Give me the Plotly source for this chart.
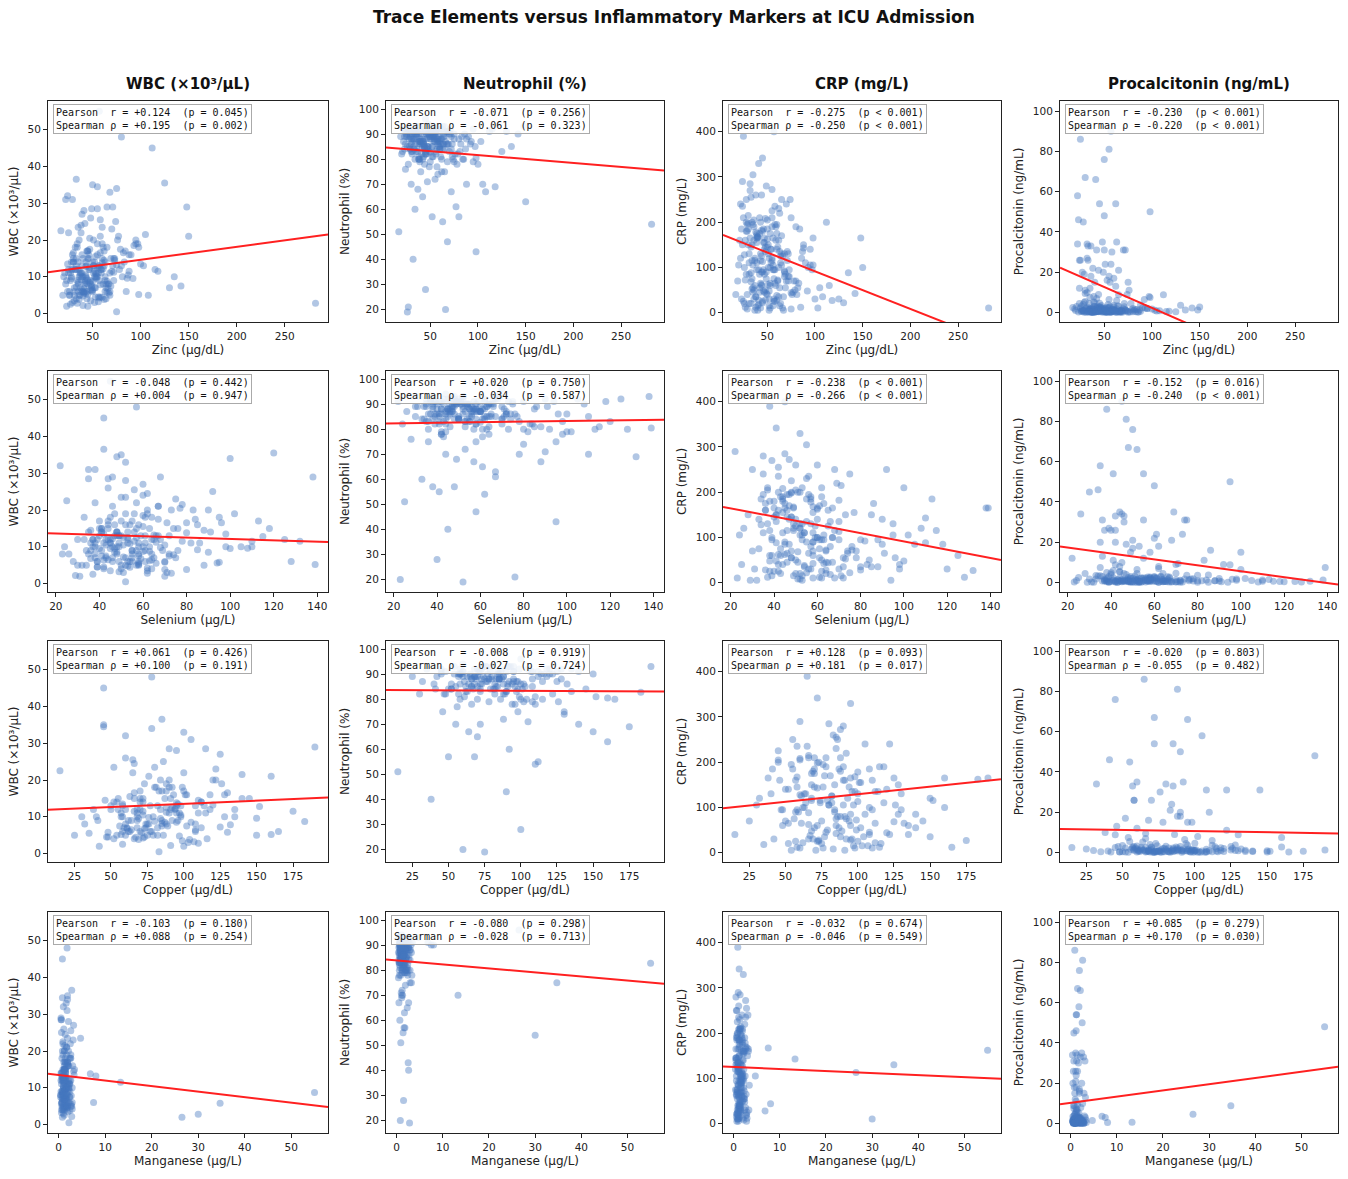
import plotly.graph_objects as go

# one entry per patient (None = not measured)
zinc = [25, 32, 41, 28, 45, 38, 22, 55, 35, 48,
        30, 42, 36, 50, 27, 62, 44, 33, 58, 40,
        47, 52, 39, 65, 31, 56, 43, 70, 24, 60,
        35, 45, 53, 38, 67, 29, 49, 57, 41, 63,
        20, 33, 46, 54, 61, 37, 43, 68, 26, 51,
        95, 105, 112, 125, 150, 98, 135, 88, 118, 103,
        142, 92, 108, 130, 84, 97, 115, 100, 90, 148,
        23, 27, 31, 36, 40, 44, 48, 52, 56, 75,
        17, 26, 27, 32, 45, 66, 68, 63, 52, 80,
        30, 34, 37, 42, 55, 58, 72, 77, 62, 47,
        39, 43, 48, 53, 59, 64, 70, 35, 28, 46,
        41, 44, 50, 54, 57, 61, 33, 38, 66, 72,
        21, 24, 29, 34, 38, 42, 47, 51, 55, 60,
        26, 31, 35, 40, 45, 49, 53, 58, 62, 67,
        33, 24, 29, 55, 68, 75, 71, 39, 49, 58,
        73, 78, 82, 86, 80, 76, 69, 93, 87, 74,
        22, 25, 30, 36, 44, 50, 57, 63, 72, 53,
        37, 41, 46, 51, 56, 60, 65, 34, 28, 43,
        19, 23, 32, 39, 48, 52, 59, 64, 81, 85,
        282, 50, 65, 45, 88, 40, 60, 75, 35, 98, 57,
        34, 39, 44, 49, 54, 59, 64, 28, 31, 46,
        37, 42, 47, 52, 57, 62, 69, 25, 29, 55,
        36, 40, 45, 50, 55, 60, 65, 71, 30, 47,
        33, 38, 43, 48, 53, 58, 63, 68, 42, 36,
        44, 51, 56, 61, 39, 34, 73, 79, 83, 95]

selenium = [38, 45, 52, 30, 41, 60, 35, 47, 55, 44,
            48, 36, 62, 50, 42, 55, 70, 40, 46, 58,
            33, 52, 44, 68, 58, 49, 37, 75, 28, 63,
            46, 55, 39, 61, 72, 51, 43, 57, 66, 48,
            24, 41, 53, 47, 64, 38, 56, 82, 34, 59,
            90, 78, 42, 120, 67, 95, 110, 85, 132, 72,
            58, 100, 88, 75, 113, 62, 125, 98, 54, 138,
            31, 37, 45, 50, 29, 42, 64, 71, 39, 52,
            25, 52, 76, 45, 40, 23, 58, 41, 38, 48,
            44, 33, 49, 61, 53, 80, 57, 67, 36, 90,
            47, 51, 55, 60, 43, 65, 78, 35, 40, 58,
            70, 38, 42, 54, 62, 46, 51, 85, 59, 66,
            36, 42, 47, 52, 57, 62, 67, 73, 44, 50,
            39, 43, 48, 53, 58, 63, 68, 74, 80, 94,
            42, 22, 38, 48, 52, 100, 46, 60, 35, 56,
            88, 64, 96, 108, 57, 83, 118, 60, 70, 92,
            26, 37, 41, 46, 50, 55, 61, 69, 74, 86,
            32, 36, 41, 45, 49, 54, 63, 73, 105, 115,
            30, 34, 39, 44, 48, 53, 58, 64, 98, 128,
            62, 60, 95, 70, 110, 49, 80, 65, 52, 139, 45,
            41, 45, 50, 55, 60, 65, 35, 48, 53, 57,
            43, 47, 51, 56, 61, 67, 72, 38, 44, 49,
            37, 40, 44, 48, 52, 56, 61, 66, 71, 77,
            50, 54, 58, 62, 46, 42, 39, 57, 64, 70,
            45, 49, 53, 58, 63, 68, 76, 84, 91, 102]

copper = [65, 80, 95, 55, 72, None, 105, 88, None, 60,
          72, None, 90, 45, 110, 85, None, 58, 76, 98,
          50, 68, 102, None, 82, 95, 40, 122, None, 70,
          78, 62, 48, 115, 88, None, 56, 92, 35, None,
          30, 66, 84, None, 99, 74, 52, None, 60, 108,
          120, 140, 45, None, 160, 90, None, 128, 175, 98,
          85, None, 150, 112, 70, None, 135, 96, 118, 190,
          42, 58, None, 79, 91, 66, None, 103, 47, 83,
          15, 75, None, 38, 100, 60, None, 112, 68, 50,
          55, 92, None, 70, 88, 130, 64, None, 46, 105,
          77, None, 96, 63, 118, 82, None, 54, 69, 101,
          48, 85, 108, None, 72, 94, 125, None, 61, 88,
          90, 58, None, 73, 100, 66, None, 84, 115, 52,
          62, None, 87, 97, 57, None, 76, 132, 104, 71,
          85, 60, None, 45, 100, 78, None, 125, 90, 65,
          110, 94, None, 150, 78, 122, 140, None, 98, 86,
          32, 70, None, 57, 83, 108, None, 92, 145, 68,
          54, 73, 89, None, 107, 67, 80, None, 128, 152,
          25, 41, None, 64, 76, None, 95, 116, 135, 165,
          110, 183, 130, 100, 72, 58, 95, 120, 80, 160, None,
          68, None, 82, 59, None, 91, 74, None, 63, 87,
          72, 95, None, 66, 85, None, 102, 57, None, 79,
          60, None, 88, 70, 93, None, 81, 114, 66, None,
          52, 77, None, 99, 61, 73, None, 86, 108, 69,
          84, None, 97, 75, 58, 68, 91, None, 112, 126]

manganese = [0.9, 1.4, 2.1, 0.7, 1.2, None, 1.8, 2.6, None, 1.1,
             1.5, None, 0.8, 1.9, 2.4, 1.3, None, 0.6, 1.7, 2.9,
             0.5, 1.1, 2.2, None, 1.4, 0.9, 1.6, 3.1, None, 1.2,
             1.3, 0.7, 1.8, 2.0, 1.0, None, 0.4, 1.5, 2.7, None,
             1.6, 0.9, 1.2, None, 2.3, 1.1, 0.6, None, 1.9, 1.4,
             2.1, 1.3, 0.8, None, 1.7, 2.5, None, 3.0, 1.1, 0.9,
             1.4, None, 2.6, 0.7, 1.9, None, 1.2, 3.3, 2.0, 0.5,
             0.8, 1.2, None, 1.5, 2.8, 0.6, None, 1.0, 1.7, 2.2,
             0.9, 2.8, None, 2.6, 1.5, 0.8, None, 1.4, 1.8, 1.6,
             1.1, 0.7, None, 2.3, 1.2, 1.9, 0.5, None, 3.2, 1.0,
             1.3, None, 0.9, 1.6, 2.4, 1.1, None, 0.7, 1.4, 2.0,
             0.6, 1.8, 1.2, None, 2.9, 1.0, 1.5, None, 0.8, 2.2,
             1.7, 1.1, None, 0.9, 2.5, 1.4, None, 1.2, 0.6, 1.9,
             2.1, None, 0.8, 1.3, 1.6, None, 1.0, 2.7, 1.2, 0.7,
             2.8, 1.0, None, 0.8, 1.6, 1.9, None, 3.2, 0.5, 2.6,
             1.5, 0.9, None, 2.2, 1.8, 1.2, 3.4, None, 1.0, 0.6,
             0.4, 1.5, None, 2.1, 1.1, 0.7, None, 2.4, 1.3, 1.9,
             1.0, 1.6, 2.4, None, 0.6, 1.3, 2.0, None, 1.1, 0.8,
             0.7, 1.2, None, 1.8, 0.5, None, 2.3, 1.0, 1.5, 2.9,
             30.0, 55.0, 34.7, 26.5, 13.3, 7.5, 6.8, 8.0, 4.7, 1.2, None,
             1.2, None, 0.9, 1.7, None, 2.1, 1.4, None, 0.7, 1.3,
             1.0, 1.6, None, 1.1, 0.8, None, 2.3, 1.4, None, 1.7,
             1.3, None, 1.9, 0.5, 1.2, None, 2.6, 1.0, 1.5, None,
             0.8, 1.5, None, 2.0, 1.3, 0.9, None, 1.8, 1.1, 2.4,
             1.4, None, 0.6, 1.8, 2.2, 1.0, 1.5, None, 0.9, 1.7]

wbc = [22, 18, 28, 12, 15, 24, 31, 19, 8, 26,
       14, 9, 20, 35, 11, 17, 6, 13, 21, 10,
       12, 7, 16, 29, 5, 13, 10, 23, 6, 15,
       6, 9, 4.5, 11, 8, 3, 7.5, 12.5, 5.5, 10,
       10, 15, 12, 9.5, 18, 7, 14, 11, 5, 13,
       20, 21.5, 45, 35.5, 21, 18, 10, 16, 11.5, 13,
       7.5, 9.5, 5, 7, 17, 19, 12, 13.5, 16, 29,
       2, 2.5, 3.5, 5, 2.2, 4, 6.5, 3, 4.5, 0.5,
       22.5, 5, 9, 12, 17, 8, 6, 14, 10, 13,
       15, 18, 11, 6, 12.5, 16.5, 9, 21, 14.5, 8.5,
       13, 10.5, 9, 15.5, 12, 7, 11.5, 14, 9.5, 16,
       5.8, 8.2, 6.4, 10.8, 4.2, 12.2, 7.2, 9.2, 6.8, 11.2,
       11, 13.5, 16, 19, 22, 24.5, 17.5, 20, 28.5, 23.5,
       6, 7, 8.5, 4.8, 5.2, 6.2, 9.8, 7.8, 3.8, 5.6,
       36.5, 32, 31, 34.5, 33, 34, 29, 27, 28.5, 25.5,
       14.5, 12, 16.5, 9.6, 48, 20, 15, 18.5, 10.5, 25,
       8, 12, 14, 10, 17, 6, 13, 9, 15, 11,
       5, 6.8, 7.5, 11, 3.2, 4.4, 8.8, 2.8, 10, 12.8,
       5, 9, 12, 6.5, 8, 14, 11, 4, 10, 6,
       2.8, 8.7, 5.8, 2.0, 11.5, 6.0, 13.8, 13.2, 23.5, 5.2, 55,
       9, 11, 13, 7, 10, 12, 8, 14, 6, 15,
       10.5, 8.5, 12.5, 11.5, 9, 13, 7.5, 11, 12, 10,
       12, 15, 17, 14, 16, 19, 18, 13, 16.5, 20.5,
       4, 6, 5.5, 3.5, 7, 4.5, 6, 5, 8, 3.8,
       9.5, 13, 11, 8, 10, 12, 15, 17.5, 14, 19]

neutrophil = [90, 88, 93, 85, 91, 87, 92, 89, 83, 94,
              86, 80, 91, 92, 78, 88, 84, 90, 87, 75,
              84, 89, 79, 93, 82, 91, 86, 90, 76, 85,
              88, 83, 91, 80, 86, 90, 77, 87, 92, 84,
              82, 85, 90, 88, 81, 93, 86, 79, 89, 91,
              92, 70, 91, 83, 63, 43, 85, 88, 69, 87,
              90, 86, 67, 91, 80, 85, 92, 78, 89, 93,
              89, 92, 87, 84, 93, 78, 90, 85, 82, 88,
              51, 19, 21, 40, 28, 20, 47, 55, 57, 57,
              70, 60, 68, 65, 72, 74, 67, 61, 75, 71,
              87, 91, 85, 89, 92, 86, 83, 90, 88, 84,
              82, 88, 79, 90, 84, 86, 91, 81, 87, 89,
              83, 86, 89, 92, 80, 88, 85, 91, 87, 84,
              85, 90, 92, 87, 82, 89, 93, 86, 80, 91,
              88, 91, 84, 90, 86, 79, 92, 87, 83, 89,
              81, 78, 86, 90, 88, 82, 91, 87, 84, 80,
              87, 92, 83, 90, 85, 88, 77, 93, 84, 89,
              93, 86, 82, 88, 91, 84, 89, 80, 92, 81,
              89, 84, 91, 86, 93, 81, 88, 90, 83, 80,
              54, 82.7, 75, 96, 70, 90, 91, 90, 93, 80.5, 92,
              86, 88, 84, 90, 87, 85, 89, 91, 83, 88,
              83, 87, 90, 85, 88, 92, 86, 89, 84, 91,
              91, 86, 82, 89, 93, 87, 84, 90, 88, 85,
              84, 90, 87, 92, 81, 88, 86, 91, 85, 89,
              85, 90, 83, 88, 80, 92, 86, 82, 89, 79]

crp = [390, 285, 330, 250, 342, 260, 240, 272, 305, 208,
       198, 175, 190, 205, 160, 230, 182, 145, 195, 168,
       140, 120, 155, 250, 110, 165, 130, 240, 150, 175,
       45, 22, 60, 12, 35, 8, 75, 30, 18, 55,
       105, 88, 95, 140, 72, 115, 65, 92, 128, 100,
       140, 55, 200, 30, 100, 105, 88, 150, 27, 10,
       42, 48, 35, 22, 185, 95, 60, 30, 110, 165,
       30, 12, 85, 50, 5, 62, 28, 15, 95, 8,
       40, 20, 72, 165, 25, 10, 90, 135, 48, 70,
       185, 75, 120, 55, 210, 95, 130, 45, 160, 85,
       170, 200, 135, 100, 190, 125, 70, 195, 180, 155,
       95, 60, 40, 110, 25, 145, 68, 35, 125, 80,
       160, 235, 195, 200, 178, 210, 165, 150, 190, 140,
       100, 20, 55, 15, 90, 42, 10, 65, 35, 5,
       255, 290, 180, 225, 130, 210, 115, 165, 280, 235,
       95, 70, 55, 120, 190, 40, 85, 100, 135, 250,
       120, 210, 150, 160, 260, 185, 95, 220, 70, 175,
       5, 28, 48, 62, 15, 38, 105, 52, 85, 115,
       70, 185, 270, 110, 145, 5, 60, 20, 40, 12,
       10, 162, 130, 113, 143, 167, 28, 44, 105, 165, 400,
       150, 175, 125, 90, 140, 160, 110, 200, 130, 185,
       60, 85, 45, 30, 75, 100, 55, 25, 40, 115,
       205, 165, 180, 145, 120, 195, 170, 135, 215, 155,
       20, 35, 10, 50, 65, 25, 15, 80, 45, 30,
       90, 130, 105, 70, 95, 115, 80, 50, 65, 105]

procalcitonin = [86, 34, 66, 45, 54, 22, 58, 81, 12, 35,
                 67, 31, 18, 76, 20, 54, 9, 26, 30, 15,
                 3.5, 1.2, 8, 21, 2.2, 15, 0.8, 31, 4.5, 2.8,
                 0.5, 1.1, 0.3, 2.0, 0.8, 0.2, 1.5, 0.6, 0.4, 1.8,
                 1.0, 2.5, 0.7, 4.0, 1.3, 0.4, 2.2, 0.9, 3.3, 1.6,
                 2.0, 0.7, 8.8, 0.4, 2.7, 50, 1.2, 3.8, 0.6, 1.1,
                 2.2, 6.5, 0.9, 3.6, 1.5, 8.0, 0.5, 1.8, 2.4, 1.2,
                 0.3, 1.0, 0.6, 2.1, 0.2, 0.8, 1.4, 0.4, 3.0, 0.1,
                 2.5, 0.8, 1.5, 10, 0.5, 0.3, 1.2, 6, 0.9, 0.4,
                 5.5, 1.8, 0.6, 2.4, 18, 0.9, 1.1, 0.3, 13, 0.7,
                 1.4, 3.2, 0.8, 2.6, 1.0, 0.5, 1.9, 7.5, 4.0, 1.2,
                 0.4, 1.6, 0.3, 2.0, 0.1, 0.9, 1.3, 0.2, 0.6, 1.5,
                 3.0, 26, 19, 4.5, 1.0, 7.0, 2.3, 24, 0.8, 17,
                 0.5, 0.2, 1.1, 0.4, 2.8, 0.6, 0.3, 1.7, 0.2, 0.1,
                 33, 12, 5, 2.5, 1.0, 15, 4.5, 3.0, 20, 1.2,
                 0.9, 4.5, 1.6, 0.3, 2.0, 11, 0.5, 2.2, 1.4, 9.0,
                 34, 26, 11, 33, 21, 31, 24, 35, 31, 16,
                 0.1, 0.7, 1.2, 0.4, 0.2, 0.5, 3.1, 0.3, 1.0, 0.6,
                 1.8, 46, 27, 5.2, 0.8, 0.2, 1.5, 0.4, 1.1, 0.3,
                 None, 48, 8.8, 4.6, 0.6, 3.0, 3.6, 0.5, 1.5, 7.5, 90,
                 0.9, 1.5, 0.4, 2.3, 0.7, 1.1, 3.4, 0.6, 1.9, 2.7,
                 0.2, 0.8, 1.4, 0.3, 0.5, 1.0, 0.2, 2.2, 0.7, 0.4,
                 1.6, 4.8, 2.2, 0.9, 6.5, 1.3, 0.8, 2.9, 9.5, 1.7,
                 0.3, 0.1, 0.6, 0.2, 1.0, 0.4, 0.2, 0.8, 0.5, 0.3,
                 1.1, 2.1, 0.3, 0.7, 1.5, 0.5, 0.9, 1.3, 0.4, 2.0]

element_data = [zinc, selenium, copper, manganese]
element_labels = ["Zinc (µg/dL)", "Selenium (µg/L)", "Copper (µg/dL)", "Manganese (µg/L)"]
marker_data = [wbc, neutrophil, crp, procalcitonin]
marker_labels = ["WBC (×10³/μL)", "Neutrophil (%)", "CRP (mg/L)", "Procalcitonin (ng/mL)"]

# correlation results per [element][marker]
pearson_r = [[0.124, -0.071, -0.275, -0.230],
             [-0.048, 0.020, -0.238, -0.152],
             [0.061, -0.008, 0.128, -0.020],
             [-0.103, -0.080, -0.032, 0.085]]
pearson_p = [[0.045, 0.256, 0.0001, 0.0001],
             [0.442, 0.750, 0.0001, 0.016],
             [0.426, 0.919, 0.093, 0.803],
             [0.180, 0.298, 0.674, 0.279]]
spearman_rho = [[0.195, -0.061, -0.250, -0.220],
                [0.004, -0.034, -0.266, -0.240],
                [0.100, -0.027, 0.181, -0.055],
                [0.088, -0.028, -0.046, 0.170]]
spearman_p = [[0.002, 0.323, 0.0001, 0.0001],
              [0.947, 0.587, 0.0001, 0.0001],
              [0.191, 0.724, 0.017, 0.482],
              [0.254, 0.713, 0.549, 0.030]]

# least squares lines (intercept, slope) per [element][marker]
fit_intercept = [[11.1, 84.8, 174.5, 23.0],
                 [14.0, 82.1, 182.4, 20.3],
                 [11.8, 83.64, 95.9, 11.74],
                 [13.5, 83.9, 125.4, 10.3]]
fit_slope = [[0.0352, -0.0317, -0.832, -0.207],
             [-0.0186, 0.0116, -0.913, -0.147],
             [0.0172, -0.0032, 0.334, -0.0113],
             [-0.151, -0.161, -0.456, 0.309]]

x_ranges = [[3.6, 295], [16.4, 144.9], [6.8, 199], [-2.3, 57.9]]
x_dticks = [50, 20, 25, 10]
y_ranges = [[-2.3, 57.8], [15.0, 103.2], [-20.8, 468], [-4.7, 105]]
y_dticks = [10, 10, 100, 20]

W, H = 1348, 1179
col_px = [(48, 328), (386, 664), (723, 1001), (1060, 1338)]
row_px = [(101, 322), (371, 592), (641, 862), (912, 1133)]


def p_text(p):
    if p < 0.001:
        return "< 0.001"
    return f"= {p:.3f}"


fig = go.Figure()
annotations = []
layout = {}

for r in range(4):
    for c in range(4):
        i = r * 4 + c + 1
        sfx = "" if i == 1 else str(i)
        xs, ys = [], []
        for xv, yv in zip(element_data[r], marker_data[c]):
            if xv is not None and yv is not None:
                xs.append(xv)
                ys.append(yv)
        fig.add_trace(go.Scatter(
            x=xs, y=ys, mode="markers", xaxis="x" + sfx, yaxis="y" + sfx,
            marker=dict(size=7, color="rgba(70,120,190,0.42)", line=dict(width=0)),
            showlegend=False, hoverinfo="x+y",
        ))
        x0, x1 = x_ranges[r]
        a, b = fit_intercept[r][c], fit_slope[r][c]
        fig.add_trace(go.Scatter(
            x=[x0, x1], y=[a + b * x0, a + b * x1], mode="lines",
            xaxis="x" + sfx, yaxis="y" + sfx,
            line=dict(color="#ff2020", width=2), showlegend=False, hoverinfo="skip",
        ))
        axis_common = dict(showline=True, mirror=True, linecolor="#222", linewidth=1,
                           ticks="outside", ticklen=4, tickcolor="#222", showgrid=False,
                           zeroline=False, tickfont=dict(size=10.5, color="#222"))
        layout["xaxis" + sfx] = dict(
            axis_common, domain=[col_px[c][0] / W, col_px[c][1] / W], anchor="y" + sfx,
            range=x_ranges[r], dtick=x_dticks[r], tick0=0,
            title=dict(text=element_labels[r], font=dict(size=12, color="#222"), standoff=5),
        )
        layout["yaxis" + sfx] = dict(
            axis_common, domain=[1 - row_px[r][1] / H, 1 - row_px[r][0] / H], anchor="x" + sfx,
            range=y_ranges[c], dtick=y_dticks[c], tick0=0,
            title=dict(text=marker_labels[c], font=dict(size=12, color="#222"), standoff=6),
        )
        line1 = f"Pearson  r = {pearson_r[r][c]:+.3f}  (p {p_text(pearson_p[r][c])})"
        line2 = f"Spearman ρ = {spearman_rho[r][c]:+.3f}  (p {p_text(spearman_p[r][c])})"
        annotations.append(dict(
            xref=("x" + sfx) + " domain", yref=("y" + sfx) + " domain",
            x=0.018, y=0.985, xanchor="left", yanchor="top", align="left",
            text=(line1 + "<br>" + line2).replace(" ", "\u00a0"),
            showarrow=False, font=dict(family="DejaVu Sans Mono", size=10, color="#111"),
            bgcolor="rgba(255,255,255,0.85)", bordercolor="#aaaaaa", borderwidth=1, borderpad=2,
        ))

for c in range(4):
    annotations.append(dict(
        xref="paper", yref="paper", x=(col_px[c][0] + col_px[c][1]) / 2 / W, y=1 - 84 / H,
        text="<b>" + marker_labels[c] + "</b>", showarrow=False,
        font=dict(size=15, color="#111"), xanchor="center", yanchor="middle",
    ))

annotations.append(dict(
    xref="paper", yref="paper", x=0.5, y=1 - 17 / H,
    text="<b>Trace Elements versus Inflammatory Markers at ICU Admission</b>",
    showarrow=False, font=dict(size=17, color="#111"), xanchor="center", yanchor="middle",
))

fig.update_layout(
    width=W, height=H,
    margin=dict(l=0, r=0, t=0, b=0),
    paper_bgcolor="white", plot_bgcolor="white",
    font=dict(family="DejaVu Sans", color="#222"),
    annotations=annotations,
    **layout,
)

fig.write_html("out.html", config={"displayModeBar": False},
               post_script="document.body.style.margin='0';")
